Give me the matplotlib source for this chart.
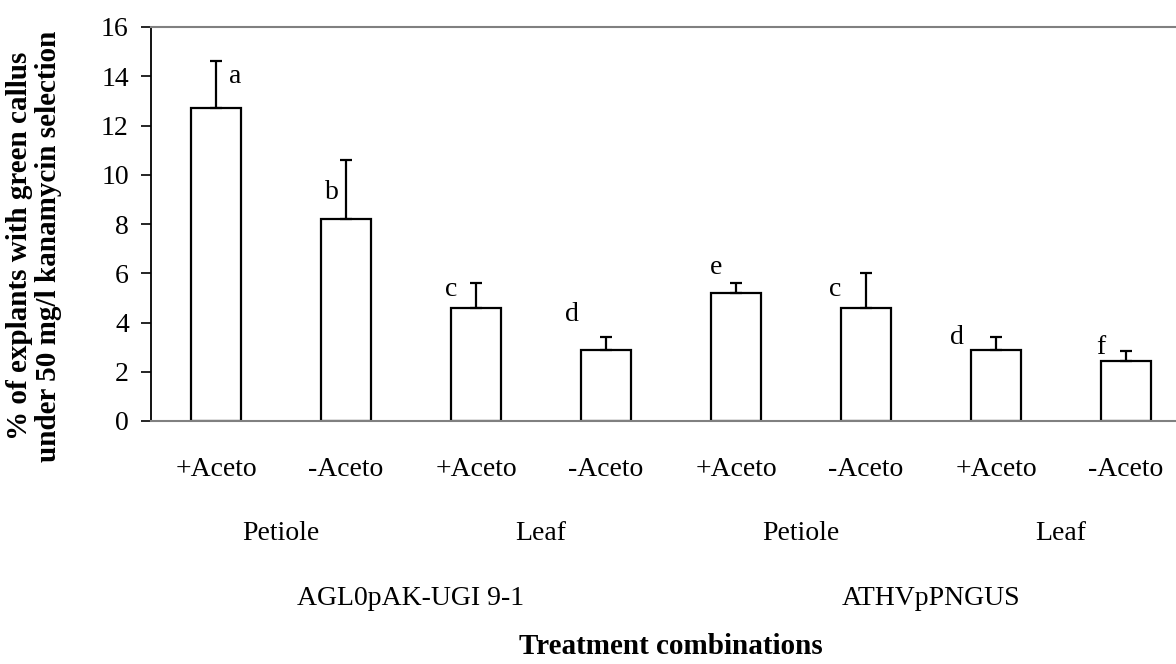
import numpy as np
import matplotlib
matplotlib.use("Agg")
import matplotlib.pyplot as plt

# ── data ──
treat   = ["+Aceto", "-Aceto", "+Aceto", "-Aceto", "+Aceto", "-Aceto", "+Aceto", "-Aceto"]
tissue  = ["Petiole", "Leaf", "Petiole", "Leaf"]
strain  = ["AGL0pAK-UGI 9-1", "ATHVpPNGUS"]
values  = [12.7, 8.2, 4.6, 2.9, 5.2, 4.6, 2.9, 2.45]
errors  = [1.9, 2.4, 1.0, 0.5, 0.4, 1.4, 0.5, 0.4]
letters = ["a", "b", "c", "d", "e", "c", "d", "f"]

# letter placement relative to top of error bar (manual, as in the original)
let_dx = [0.15, -0.11, -0.19, -0.26, -0.15, -0.24, -0.30, -0.19]
let_dy = [-0.6, -1.34, -0.28, 0.91, 0.62, -0.68, -0.02, 0.12]

plt.rcParams['font.family'] = ['Liberation Serif', 'DejaVu Serif']
FS = 20      # regular text
FSB = 21     # bold titles

fig = plt.figure(figsize=(11.76, 6.64), dpi=100)
ax = fig.add_axes([151/1176, 1 - 421/664, 1 - 151/1176, 394/664])

x = np.arange(len(values))
ax.bar(x, values, width=0.39, color="white", edgecolor="black", linewidth=1.6, zorder=2)
ax.errorbar(x, values, yerr=[np.zeros(len(errors)), errors], fmt="none",
            ecolor="black", elinewidth=1.6, capsize=4, capthick=1.6, zorder=3)

for xi, v, e, lab, dx, dy in zip(x, values, errors, letters, let_dx, let_dy):
    ax.text(xi + dx, v + e + dy, lab, ha="center", va="center", fontsize=FS)

ax.set_xlim(-0.5, 7.385)
ax.set_ylim(0, 16)
ax.set_yticks(np.arange(0, 17, 2))
ax.tick_params(axis="y", direction="out", length=7, width=1.2, labelsize=FS, pad=9)
ax.set_xticks([])

ax.spines["right"].set_visible(False)
ax.spines["top"].set_color("#808080")
ax.spines["bottom"].set_color("#808080")
ax.spines["top"].set_linewidth(1.5)
ax.spines["bottom"].set_linewidth(1.5)
ax.spines["left"].set_linewidth(1.3)

# multi-level category labels
tr = ax.get_xaxis_transform()
for xi, t in zip(x, treat):
    ax.text(xi, -0.122, t, transform=tr, ha="center", va="center", fontsize=FS)
for i, t in enumerate(tissue):
    ax.text(2 * i + 0.5, -0.285, t, transform=tr, ha="center", va="center", fontsize=FS)
for i, s in enumerate(strain):
    ax.text(4 * i + 1.5, -0.45, s, transform=tr, ha="center", va="center", fontsize=FS)
ax.text(3.5, -0.572, "Treatment combinations", transform=tr, ha="center", va="center",
        fontsize=FSB, fontweight="bold")

fig.text(34/1176, 1 - 246/664, "% of explants with green callus\nunder 50 mg/l kanamycin selection",
         rotation=90, ha="center", va="center", multialignment="center",
         fontsize=FSB, fontweight="bold", linespacing=1.1)

plt.savefig("out.png", dpi=100)
